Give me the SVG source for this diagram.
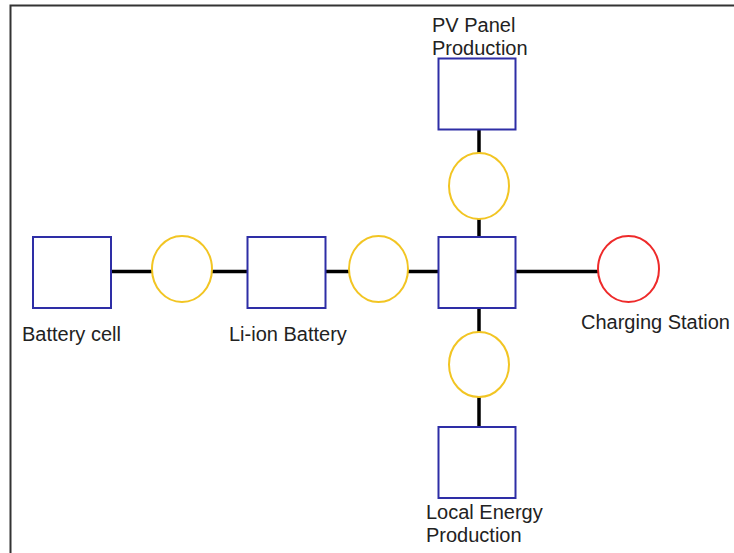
<svg xmlns="http://www.w3.org/2000/svg" width="734" height="553" viewBox="0 0 734 553">
<style>
.box{fill:#fff;stroke:#2e2ea6;stroke-width:2}
.node{fill:#fff;stroke:#f2c523;stroke-width:2}
.red{fill:#fff;stroke:#ee2a2a;stroke-width:2}
.lbl{font-family:"Liberation Sans",Arial,sans-serif;font-size:20px;fill:#222}
.conn{stroke:#000;stroke-width:3.5;fill:none}
</style>
<rect width="734" height="553" fill="#fff"/>
<path d="M10.5 553 V5.5 H734" fill="none" stroke="#333" stroke-width="2"/>
<g id="connectors">
<line class="conn" x1="111" y1="271.5" x2="152" y2="271.5"/>
<line class="conn" x1="212" y1="271.5" x2="247" y2="271.5"/>
<line class="conn" x1="326" y1="271.5" x2="349" y2="271.5"/>
<line class="conn" x1="408" y1="271.5" x2="438" y2="271.5"/>
<line class="conn" x1="516" y1="271.5" x2="598" y2="271.5"/>
<line class="conn" x1="479" y1="129" x2="479" y2="153"/>
<line class="conn" x1="479" y1="219" x2="479" y2="236"/>
<line class="conn" x1="479" y1="308" x2="479" y2="332"/>
<line class="conn" x1="479" y1="397" x2="479" y2="427"/>
</g>
<g id="battery-cell">
<rect class="box" x="33" y="237" width="78" height="71"/>
<text class="lbl" x="22" y="341">Battery cell</text>
</g>
<g id="node1"><ellipse class="node" cx="182" cy="269" rx="30" ry="33"/></g>
<g id="li-ion-battery">
<rect class="box" x="247.5" y="237" width="78" height="71"/>
<text class="lbl" x="229" y="341">Li-ion Battery</text>
</g>
<g id="node2"><ellipse class="node" cx="378.5" cy="269" rx="29.5" ry="33"/></g>
<g id="hub"><rect class="box" x="438.5" y="237" width="77" height="71"/></g>
<g id="charging-station">
<ellipse class="red" cx="628.5" cy="269" rx="30.5" ry="33"/>
<text class="lbl" x="581" y="329">Charging Station</text>
</g>
<g id="pv-panel">
<rect class="box" x="438.5" y="58.5" width="77" height="71"/>
<text class="lbl" x="432" y="32">PV Panel</text>
<text class="lbl" x="432" y="55">Production</text>
</g>
<g id="node3"><ellipse class="node" cx="479" cy="186" rx="30" ry="33"/></g>
<g id="node4"><ellipse class="node" cx="479" cy="364.5" rx="30" ry="32.5"/></g>
<g id="local-energy">
<rect class="box" x="438.5" y="427" width="77" height="71"/>
<text class="lbl" x="426" y="519">Local Energy</text>
<text class="lbl" x="426" y="542">Production</text>
</g>
</svg>
